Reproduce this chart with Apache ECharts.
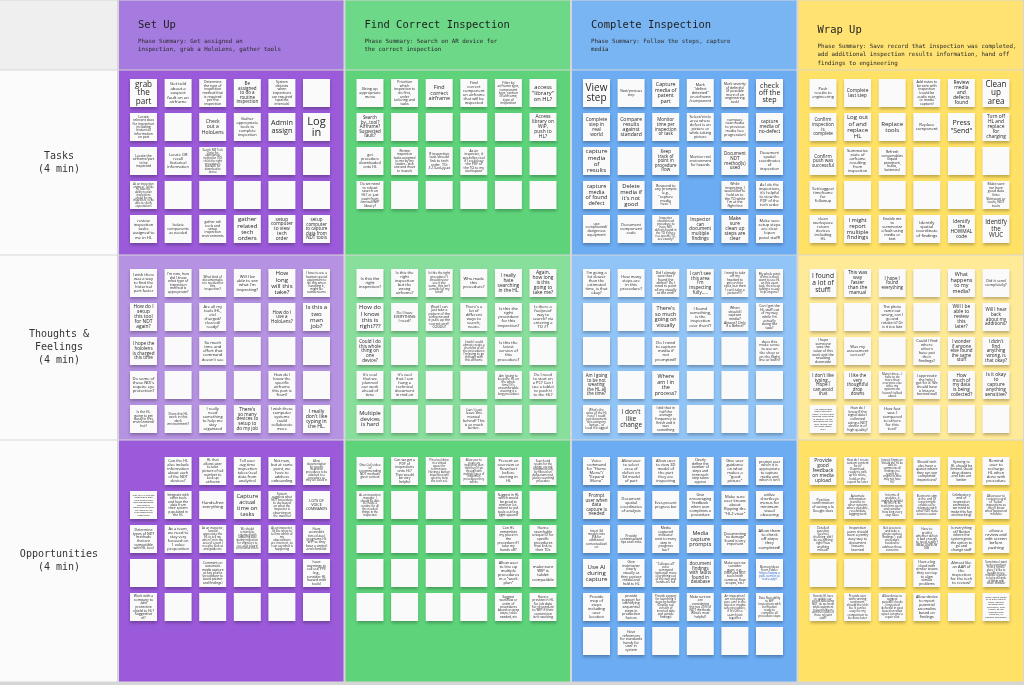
<!DOCTYPE html>
<html><head><meta charset="utf-8">
<script src="https://cdn.jsdelivr.net/npm/echarts@6/dist/echarts.min.js"></script>
<style>html,body{margin:0;padding:0;background:#fff}#c{width:1024px;height:685px}</style>
</head><body><div id="c"></div>
<script>
// ---------- DATA ----------
const phases = ['Set Up', 'Find Correct Inspection', 'Complete Inspection', 'Wrap Up'];
const summaries = [
  'Phase Summary: Get assigned an\ninspection, grab a HoloLens, gather tools',
  'Phase Summary: Search on AR device for\nthe correct inspection',
  'Phase Summary: Follow the steps, capture\nmedia',
  'Phase Summary: Save record that inspection was completed,\nadd additional inspection results information, hand off\nfindings to engineering'
];
const rowLabels = ['Tasks\n(4 min)', 'Thoughts &\nFeelings\n(4 min)', 'Opportunities\n(4 min)'];

// '' = blank sticky note, null = no note
const setUpTasks = [
  ["grab the part", "Get told about a suspect fault on an airframe", "Determine the type of inspection method that is required per the inspection", "Be assigned to do a routine inspection", "System dictates when inspections are required (specific intervals)", ""],
  ["Locate relevant docs for inspection including historical information on part", "", "Check out a HoloLens", "Gather appropriate tools to complete inspection", "Admin assign", "Log in"],
  ["Locate the airframe/part to be inspected", "Locate OR recall historical information", "Search NDI Tech Order for appropriate inspection (TO) check the right procedure is available for download to device", "", "", ""],
  ["As an inspection engineer, I'd like to have the ability to plan inspections ahead for my inspectors, to be able to clarify expectations", "", "", "", "", ""],
  ["review inspection tasks assigned to me in HL", "Isolate components as needed", "gather ndi tools and setup inspection environments", "gather related tech orders", "setup computer to view tech order", "setup computer to capture data from NDT tools"]
];
const findTasks = [
  ["Bring up appropriate menu", "Prioritize which inspection to do first, order tailoring and tasks", "Find correct airframe", "Find correct component on airframe that will be inspected", "Filter by airframe type, component type, section of airframe, type of inspection", "access \"library\" on HL?"],
  ["Search by...tool? Airframe? Suspected fault?", "", "", "", "", "Access library on WiP, push to HL?"],
  ["get procedure downloaded onto HL", "Review inspection tasks assigned to me by my leader - pick one and move to in-work", "If inspection task should link to tech order, TO: #-13-xx-yy-zz", "As an inspector, it would be cool if I could say the PDF of the TO to my workspace", "", ""],
  ["Do we need to robust search on HL? or just push from central/WiP library?", "", "", "", "", ""]
];
const completeTasks = [
  ["View step", "Next/previous step", "Capture media of patent part", "Mark \"defect detected\" on airframe /component", "Mark severity of defect(s) (if possible more of an engineering task)", "check off the step"],
  ["Complete step in real world", "Compare results against standard", "Monitor time per inspection or task", "Select/circle area where defect is on picture or while taking picture", "compare new media to previous media (see progression)", "capture media of no-defect"],
  ["capture media of results", "", "Keep track of point in procedure flow", "Monitor real environment for hazards", "Document NDT method(s) used", "Document spatial coordinates of inspection"],
  ["capture media of found defect", "Delete media if it's not good", "Respond to any prompts (e.g., \"capture media here\")", null, "While inspecting, I would like to hold on to the TO while I'm at the flight line", "As I do the inspections, it's helpful to view the PDF of the tech order"],
  ["use complicated/ dangerous equipment", "Document component code", "Inspector should need procedure to have NDI defects found in the TO if there is a specific TO, see exactly?", "Inspector can document multiple findings", "Make sure clean up steps are clear", "Make sure setup steps are clear (open panel stuff)"]
];
const wrapTasks = [
  ["Push results to engineering", "Complete last step", "", "Add notes to be sent with inspection (could be audio note, or media capture)", "Review media and defects found", "Clean up area"],
  ["Confirm inspection is complete", "Log out of and replace HL", "Replace tools", "Replace component", "Press \"Send\"", "Turn off HL and replace for charging"],
  ["Confirm push was successful", "Summarize state of airframe resulting from inspection", "Refresh consumables (liquid penetrant, bulbs, batteries)", "", "", ""],
  ["Set/suggest timeframe for followup", "", "", "", "", "Make sure we have good data (into Skinsoon or tools, NDT tools"],
  ["clean workspace return devices including HL", "I might report multiple findings", "Enable me to summarize a fault using media or text", "Identify spatial coordinate of findings", "Identify the HOWMAL code", "Identify the WUC"]
];
const setUpThoughts = [
  ["I wish there was a way to find the historical part faster", "I'm new, how did I know what type of inspection method is appropriate?", "What kind of documentation is needed for this inspection?", "Will I be able to see what I'm inspecting?", "How long will this take?", "I have to use a hazmat special equipment to do this when handling it, might be cumbersome"],
  ["How do I setup this tool for NDT again?", "", "Are all my tools (HL, etc) charged/ cleared/ ready?", "", "How do I use a HoloLens?", "Is this a two man job?"],
  ["I hope the hololens is charged this time", "", "So much time and effort that command doesn't see", "", "", ""],
  ["Do some of these NDI's require eye protection?", "", "", "", "How do I know the specific airframe this part is from?", ""],
  ["Is the HL going to get dusty in this environment/ hot?", "Does the HL work in this dark environment?", "I really need something to help me stay organized", "There's so many devices to setup to do my job", "I wish these computer systems could collaborate more", "I really don't like typing in the HL."]
];
const findThoughts = [
  ["Is this the right inspection?", "Is this the right inspection but the wrong airframe?", "Is this the right procedure? I should never see it the same, this isn't a model of my kind?", "Who made this procedure?", "I really hate searching in the HL", "Again, how long is this going to take me?"],
  ["How do I know this is right???", "Do I have EVERYTHING I need?", "Wow! I can just take a picture of the airframe and it pulls up the correct one!! COOOL!!", "There's a lot of different ways to search, neato.", "Is this the right procedure for this inspection?", "Is there a foolproof way to search? via entering a TO #?"],
  ["Could I do this whole thing on one device?", "", "", "I wish I could almost create a checklist of all the procedures I'm going to go through with this airframe", "Is this the latest version of this procedure?", ""],
  ["It's cool that we planned our work ahead of time", "It's cool that I can hang a technical document in mid air", "", "", "Am I going to keep the HL on the whole time? It's uncomfortable wearing it a long procedure", "Do I need to start on a PC? Can I use a tablet to push it to the HL?"],
  ["Multiple devices is hard", "", "", "Can I just leave this manual behind? This is so much better.", "", ""]
];
const completeThoughts = [
  ["I'm going a lot slower than the estimated time, is that okay?", "How many steps are in this procedure?", "Did I already save that I found the defect? Do I need to point all my visually at the end?", "I can't see this area I'm inspecting fully.....", "I need to take off my headset to get on this spot, but then I can't take a picture!!!?", "My whole point of this is that I want to use HL on this exact task, then keep taking a re-use help anyone?"],
  ["", "", "There's so much going on visually", "I found something, is the inspection over then??", "When should I capture media? Always? Only if a defect?", "Can I get the HL stuff out of my way while I'm actually doing the task?"],
  ["", "", "Do I need to capture media if not prompted?", "", "", "does this make sense to use on the shop or on the flight line or both?"],
  ["Am I going to be not wearing the HL all the time?", "", "Where am I in the process?", "", "", ""],
  ["What's the value of the HL here? I could just document this using my laptop... at least it's rugged", "I don't like change", "I did that in half the average frequency to finish and it was something", "", "", ""]
];
const wrapThoughts = [
  ["I found a lot of stuff!", "This was way faster than the manual", "I hope I found everything", "", "What happens to my media?", "Did it send completely?"],
  ["", "", "The photo came out wrong, can I go and retake it? Or is it too late", "", "Will I be able to review this later?", "Will I hear back about my additions?"],
  ["I hope someone sees the value of this work and the resulting downside", "Was my assessment correct?", "", "Could I find where others have put their findings?", "I wonder if anyone else found the same stuff", "I didn't find anything wrong, is that okay?"],
  ["I don't like typing... Hope I can avoid that", "I like the very thoughtful drop downs", "Many times... I have to do more than everyone else since my systems we haven't talked about", "I appreciate the help I got for it. We should have a lessons learned wall", "How much of my data is being collected?", "Is it okay to capture anything sensitive?"],
  ["Are inspections more accurate from HL? Do these findings have what is asked? Are we documenting the right things, did we leave some out?", "How do I know if the signal data I collected using a NDT device is of high quality?", "How fast was I compared to others for this test?", "", "", ""]
];
const setUpOpps = [
  [null, "Can the HL also include information about each of the NDT devices?", "HL that allows user to take picture of tail number to look up airframe", "Tell user avg time inspection takes (real data from analytics)", "Not now, but at some point, we have to address onboarding", "Allow documentation for specific inspection procedures to be attached to a procedure so they are saved in"],
  ["Can the HL include inspector's own tech orders and task management and overall operation to have the tools of the tech completed inspection", "Integrate with other tools and have the data from their system populated in the HL", "Hands-free everything", "Capture actual time on tasks", "System suggests what NDT procedure to use based on what the inspector is observing on the material", "LOTS OF VOICE COMMANDS"],
  ["Determine types of NDT methods that are compatible with HL tool", "As a team, we need to stay very focused on 1 value proposition", "As an inspector, I would appreciate the HL to tell me when I'm in the area of a part I need to look at and guide me", "We should certainly be organized with capturing data during inspection for engineers to see, as it is hard to tell what this is", "As an inspector, I'd like steps to tell me which of my observations are incorrect, so I can say what is happening", "Have accessible tier-of-tool programs HL WiP so they have a central and checklist"],
  ["", "", "Comment on automatic media capture at key points (procedure to avoid patient and findings)", "", "", "have warnings to call out PPE (e.g., consider HL hazard with tools)"],
  ["Work with a company to add protective shield to HL? Suggestive el?", "", "", "", "", ""]
];
const findOpps = [
  ["Give Cut's idea of recommending NDT methods given context", "Can we get a PDF of inspections onto HL? That would be very helpful", "Pin a tool drive in a virtual space for technicians. Having a button inspection will open to help the tech see", "Allow user to create an inspection plan that they'll run through with multiple types of inspection procedures they will do", "Present an overview or flowchart before starting in HL", "Search and results for the skinny, are not numbered only by filtered on alpha-numerical, just by searching procedure"],
  ["As an inspection manager, I should be able to create a routine for all the needed things in the inspection", "", "", "", "Suggest in HL which would be good to remove (i.e., where to put tools out (e.g. light spaces)", ""],
  ["", "", "", "", "Can HL remember my place in the procedure if I take my hands off?", "Have a searchable unique ID for specific procedures that link to their TOs"],
  ["", "", "", "", "Allow user to line up multiple procedures in a \"work plan\"", "make sure WIP is tablet compatible"],
  ["", "", "", "", "Suggest workflow or order of procedures based on prep steps, tools needed, etc", "Have a preview in HL for job data for procedure to WIP if their connection isn't working"]
];
const completeOpps = [
  ["Voice command for \"Home Menu\"/ \"Expand Menu\"", "Allow user to select area of defect on 3d model of part", "Allow user to view 3D model of the part they are inspecting", "Clearly define the number of steps and time each step takes approx", "Give user guidance on what makes a \"good picture\"", "prompt user when it is appropriate to capture media and when it isn't"],
  ["Prompt user when data capture is needed", "Document spatial coordinates of analysis", "Ever-present progress bar", "Give encouraging feedback when user completes a procedure", "Make sure user knows about flipping the \"HL2 visor\"", "utilize shortkeys menus for minimum visual obscuring"],
  ["Insert 3d models into JPA for additional contextualization", "Provide contextualized tips and tricks", "Media captured indicator next to every step in progress bar?", "Media capture prompts", "Documenting \"no damage\" found is very important", "Allow them to check off steps they completed!"],
  ["Use AI during capture", "Give maintainer clearly visually as they capture media and hold to HL", "\"Collapse all\" voice command (optional) move everything out of the way and hands are full", "document findings with faults found in database", "Make sure we consider gaps, e.g., DMR and NDT tools (with cameras, flow scopes, etc.)", "Borrow ideas from Fable: https://www.apple.com/procreate-app/"],
  ["Provide map of steps including user location", "provide support for identifying sequential steps in production factors", "Provide support for launching 3 steps by button (Display real version of inverted data and outside findings)", "Make sure we are considering the top 20% of NDT methods. What's most helpful?", "An inspection I am not always sure am I in the latest or maybe safe procedure, if it's OK to search just together", "Data flow ability to WiP inspections with verification ready to complete all procedure steps"],
  ["", "Have references for standards handy for user in system", "", "", "", ""]
];
const wrapOpps = [
  ["Provide good feedback on media upload", "How do I create custom content for it? Download, ready to pick up for share, hold on the report for later", "Inspect Engineer: Should the HL be able to summarize all findings in a report for engineers who may not have HL?", "Should tech also have a queue where they can see completed inspections?", "Syncing to HL should be limited. Good drop downs and lists are better", "Remind user to recharge HL when done with procedure"],
  ["Positive confirmation of saving a la Google docs", "Automate information transfer to other systems where possible, record data logging work", "In terms of analytics, it might be helpful for the HL to track time spent, and consider how long every step takes", "Electronic sign at the end of report might enable us to integrate with other NDT data sources easier", "Celebratory end of inspection animation, we need to make this fun and exciting!", "Allow user to review record of \"Failed\" inspections so they'll know what happened in future"],
  ["Detailed question (yes/no) checking, did I do everything right? was anything missed?", "Inspection users should have a pretty easy way to document lessons learned", "Get access to and take a photo capture findings + pull procedure needed to address those concerns", "Have to predict whether defect is bad enough to need repair? (BEACON/SUWNS)", "Is everything ok? Button where the system gives the option to go and change stuff", "allow a review and edit screen before pushing"],
  ["", "", "", "Have a big cloud with similar issues they can tap to align similar problems", "Almost like an AAR of the inspection for the tech to review?", "Sometimes I want to do a workout from a remote place; I'd like to be able to see multiple sessions to keep all kinds of things with what I consider"],
  ["How do HL have to update our stored data using NDT, do we know what equipment to keep tabs on and the results of those relevant stuff?", "Provide user with running sentiment, should the tech be. It can be easy for my comparison to be done later", "Allow device to suggest possible checks / inspected defect(s) in past based on what upset can give a repair cost", "Allow device to report potential anomalies based on findings", "", "Bring user's notes of in-sight data & other devices automatically published, then export as the prompts and checklist, in general document"]
];

// ---------- LAYOUT / STYLE ----------
const cells = [
  [setUpTasks, findTasks, completeTasks, wrapTasks],
  [setUpThoughts, findThoughts, completeThoughts, wrapThoughts],
  [setUpOpps, findOpps, completeOpps, wrapOpps]
];
const bandEdges = [0, 70, 255, 440, 682];
const noteTop = [9, 14, 17];
const pitchY = 34, pitchX = 34.6, noteW = 27, noteH = 28;
const phaseW = 226.5;
const colors = [
  ['#a57be0', '#9b5ad9', '#b692e2', '#9b5ad9'],
  ['#6cd888', '#5ed37a', '#88df9c', '#5ed37a'],
  ['#7ab5f3', '#6cacf2', '#92c5f7', '#6cacf2'],
  ['#ffe272', '#ffe166', '#ffea98', '#ffe166']
];
const mono = '"DejaVu Sans Mono", "Liberation Mono", monospace';
const sansName = 'Open Sans';
const sans = '"Open Sans", "Noto Sans", sans-serif';

// measured word-wrap so words are not split and font shrinks to fit the sticky note
const mctx = document.createElement('canvas').getContext('2d');
function fitText(t) {
  const maxW = 22, maxH = 25;
  const words = t.split(/\s+/).filter(Boolean);
  for (let fs = 11; fs >= 2.3; fs -= 0.1) {
    mctx.font = fs + 'px "' + sansName + '"';
    const allowSplit = fs < 3.2;
    const lines = [];
    let cur = '', ok = true, linkStart = -1;
    for (let w of words) {
      const isLink = w.startsWith('http');
      let pieces = [w];
      if (mctx.measureText(w).width > maxW) {
        if (!allowSplit) { ok = false; break; }
        pieces = []; let s = '';
        for (const ch of w) { if (mctx.measureText(s + ch).width > maxW) { pieces.push(s); s = ch; } else s += ch; }
        if (s) pieces.push(s);
      }
      pieces.forEach((pc, k) => {
        const trial = cur ? cur + ' ' + pc : pc;
        if (k === 0 && mctx.measureText(trial).width <= maxW) cur = trial;
        else { if (cur) lines.push(cur); cur = pc; }
        if (isLink && linkStart < 0) linkStart = lines.length;
      });
    }
    if (!ok) continue;
    if (cur) lines.push(cur);
    if (lines.length * fs * 1.02 <= maxH || fs < 2.4) return { fs, lines, linkStart };
  }
  return { fs: 2.3, lines: [t], linkStart: -1 };
}

const bandData = [];
for (let b = 0; b < 4; b++) { bandData.push([-1, b]); for (let p = 0; p < 4; p++) bandData.push([p, b]); }
const noteData = [], noteText = [];
cells.forEach((row, b) => row.forEach((grid, p) => grid.forEach((line, r) => line.forEach((t, c) => {
  if (t === null) return;
  noteData.push([p, b + 1, c, r]);
  noteText.push(t);
}))));
const noteFit = noteText.map(t => t ? fitText(t) : null);

const xMin = -118 / phaseW;

function bandItem(params, api) {
  const p = api.value(0), b = api.value(1);
  const x0 = p < 0 ? xMin : p, x1 = p < 0 ? 0 : p + 1;
  const tl = api.coord([x0, bandEdges[b]]);
  const br = api.coord([x1, bandEdges[b + 1]]);
  const fill = p < 0 ? (b === 0 ? '#efefef' : '#fbfbfb') : colors[p][b];
  return { type: 'rect', shape: { x: tl[0] + (p < 0 ? 0 : 1), y: tl[1] + 0.5, width: br[0] - tl[0] - (p < 0 ? 1 : 2), height: br[1] - tl[1] - 1 }, style: { fill } };
}

function noteItem(params, api) {
  const p = api.value(0), b = api.value(1), c = api.value(2), r = api.value(3);
  const origin = api.coord([p, bandEdges[b]]);
  const x = origin[0] + 12 + pitchX * c;
  const y = origin[1] + noteTop[b - 1] + pitchY * r;
  const fit = noteFit[params.dataIndex];
  const children = [
    { type: 'rect', shape: { x, y, width: noteW, height: noteH }, style: { fill: '#fafafa', shadowBlur: 3, shadowOffsetY: 2, shadowColor: 'rgba(0,0,0,0.28)' } }
  ];
  if (fit) {
    const txt = fit.lines.map((l, i) => (fit.linkStart >= 0 && i >= fit.linkStart) ? '{u|' + l + '}' : '{n|' + l + '}').join('\n');
    const lh = fit.fs * 1.02;
    children.push({ type: 'text', style: { x: x + noteW / 2, y: y + noteH / 2, text: txt, align: 'center', verticalAlign: 'middle',
      rich: { n: { fontSize: fit.fs, lineHeight: lh, fontFamily: sans, fill: '#252525', align: 'center' },
              u: { fontSize: fit.fs, lineHeight: lh, fontFamily: sans, fill: '#1b5fd9', align: 'center' } } } });
  }
  return { type: 'group', children };
}

const headerYs = [25, 25, 25, 30];
function headerItem(params, api) {
  const p = api.value(0);
  const o = api.coord([p, 0]);
  const ty = headerYs[p];
  return { type: 'group', children: [
    { type: 'text', style: { x: o[0] + 20, y: ty, text: phases[p], fontSize: 10.5, fontFamily: mono, fill: '#1e1e1e', verticalAlign: 'middle' } },
    { type: 'text', style: { x: o[0] + 20, y: ty + 12, text: summaries[p], fontSize: 5.8, lineHeight: 8.6, fontFamily: mono, fill: '#2a2a2a', verticalAlign: 'top' } }
  ] };
}

function labelItem(params, api) {
  const b = api.value(0);
  const mid = api.coord([xMin / 2, (bandEdges[b + 1] + bandEdges[b + 2]) / 2]);
  return { type: 'text', style: { x: mid[0], y: mid[1], text: rowLabels[b], fontSize: 10, lineHeight: 13, fontFamily: mono, fill: '#333', align: 'center', verticalAlign: 'middle' } };
}

const chart = echarts.init(document.getElementById('c'));
chart.setOption({
  animation: false,
  backgroundColor: '#d6d6d6',
  grid: { left: 0, right: 0, top: 0, bottom: 3 },
  xAxis: { type: 'value', min: xMin, max: 4, show: false },
  yAxis: { type: 'value', min: 0, max: 682, inverse: true, show: false },
  series: [
    { type: 'custom', name: 'bands', renderItem: bandItem, data: bandData, silent: true },
    { type: 'custom', name: 'headers', renderItem: headerItem, data: phases.map((_, i) => [i]), silent: true },
    { type: 'custom', name: 'labels', renderItem: labelItem, data: rowLabels.map((_, i) => [i]), silent: true },
    { type: 'custom', name: 'notes', renderItem: noteItem, data: noteData, silent: true }
  ]
});
</script></body></html>
